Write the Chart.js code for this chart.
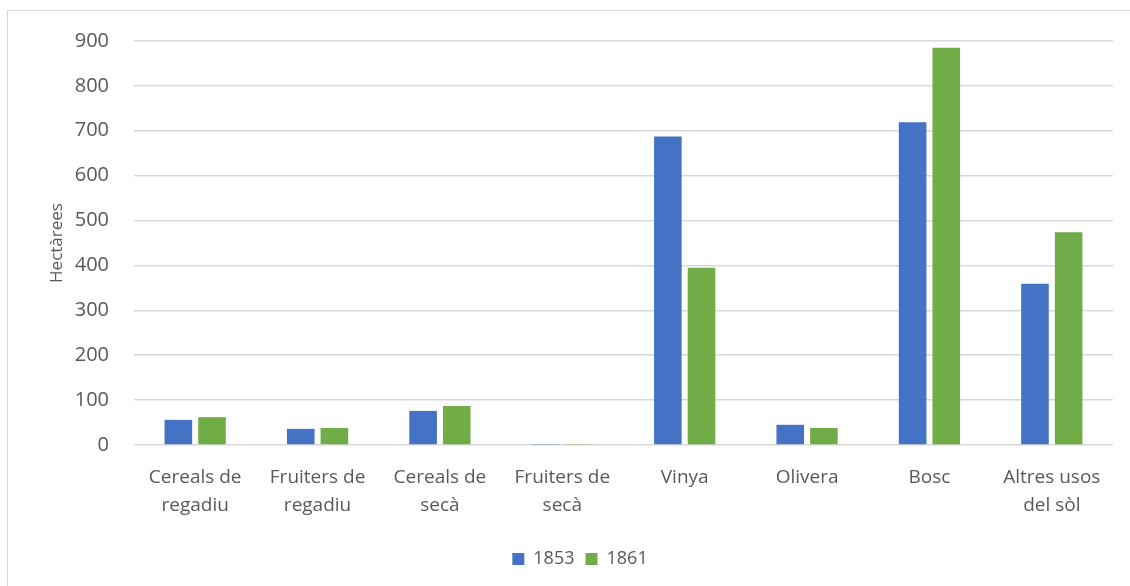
<!DOCTYPE html>
<html>
<head>
<meta charset="utf-8">
<script src="https://cdn.jsdelivr.net/npm/chart.js@4/dist/chart.umd.min.js"></script>
<style>
  html, body { margin: 0; padding: 0; background: #fff; overflow: hidden; }
  #wrap { position: relative; width: 1130px; height: 586px; }
  #frame { position: absolute; left: 7px; top: 10px; width: 1200px; height: 700px;
           border: 1px solid #D9D9D9; pointer-events: none; }
</style>
</head>
<body>
<div id="wrap">
  <canvas id="usosChart" width="1130" height="586"></canvas>
  <div id="frame"></div>
</div>
<script>
const categories = [
    ["Cereals de", "regadiu"],
    ["Fruiters de", "regadiu"],
    ["Cereals de", "secà"],
    ["Fruiters de", "secà"],
    "Vinya",
    "Olivera",
    "Bosc",
    ["Altres usos", "del sòl"]
];
const values1853 = [56, 36, 76, 1, 687, 45, 719, 359];
const values1861 = [62, 38, 87, 1, 395, 38, 885, 474];
const yTicks = [0, 100, 200, 300, 400, 500, 600, 700, 800, 900];

const font = "'Open Sans', sans-serif";
const grey = '#595959';

const ctx = document.getElementById("usosChart").getContext("2d");
const usosChart = new Chart(ctx, {
    type: 'bar',
    data: {
        labels: categories,
        datasets: [
            { label: '1853', data: values1853, backgroundColor: '#4472C4' },
            { label: '1861', data: values1861, backgroundColor: '#70AD47' }
        ]
    },
    options: {
        responsive: false,
        animation: false,
        devicePixelRatio: 1,
        categoryPercentage: 0.55,
        barPercentage: 0.82,
        layout: { padding: { left: 47, right: 17, top: 41, bottom: 8 } },
        plugins: {
            legend: {
                position: 'bottom',
                labels: {
                    boxWidth: 12, boxHeight: 12, padding: 11,
                    color: grey, font: { family: font, size: 18 }
                }
            },
            tooltip: { enabled: false }
        },
        scales: {
            x: {
                grid: { display: false },
                border: { display: false },
                afterFit: axis => { axis.height += 9; },
                ticks: {
                    color: grey, padding: 10, maxRotation: 0,
                    font: { family: font, size: 19, lineHeight: 1.5 }
                }
            },
            y: {
                min: 0, max: 900,
                afterBuildTicks: axis => { axis.ticks = yTicks.map(v => ({ value: v })); },
                afterFit: axis => { axis.width = 87; },
                grid: { color: '#D9D9D9', lineWidth: 1.5, drawTicks: false },
                border: { display: false },
                ticks: {
                    color: grey, padding: 25,
                    font: { family: font, size: 20 }
                },
                title: {
                    display: true, text: 'Hectàrees', color: grey,
                    font: { family: font, size: 17 }, padding: { top: 0, bottom: 8 }
                }
            }
        }
    }
});
</script>
</body>
</html>
